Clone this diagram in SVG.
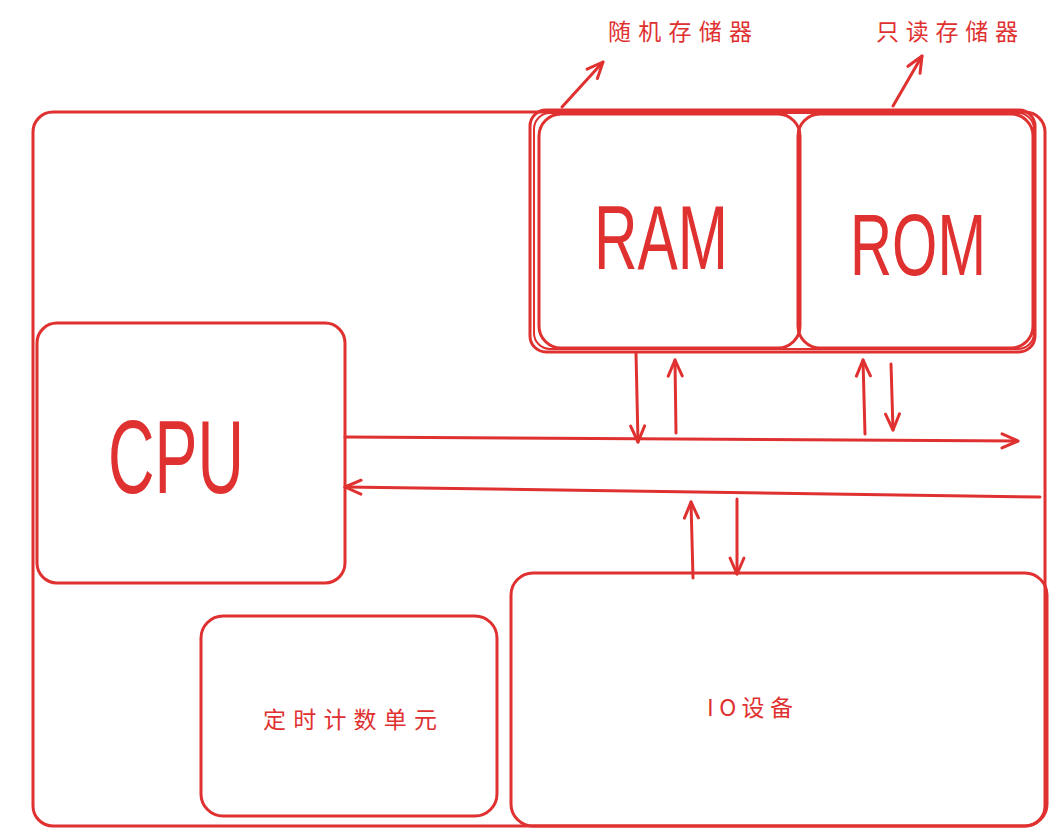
<svg xmlns="http://www.w3.org/2000/svg" width="1060" height="837" viewBox="0 0 1060 837">
<defs>
<style>
.box{fill:none;stroke:#e03131;stroke-width:3;stroke-linecap:round;stroke-linejoin:round}
.thin{fill:none;stroke:#e03131;stroke-width:2;}
.ln{fill:none;stroke:#e03131;stroke-width:3;stroke-linecap:round}
.big{font-family:"Liberation Sans","DejaVu Sans",sans-serif;fill:#e03131;font-weight:normal}
.cn{font-family:"Noto Sans CJK SC",sans-serif;fill:#e03131;font-size:23px}
</style>
<marker id="ah" viewBox="0 0 20 20" refX="18" refY="10" markerWidth="20" markerHeight="20" markerUnits="userSpaceOnUse" orient="auto">
<path d="M2,3 L18,10 L2,17" fill="none" stroke="#e03131" stroke-width="3" stroke-linecap="round" stroke-linejoin="round"/>
</marker>
</defs>
<rect width="1060" height="837" fill="#ffffff"/>
<g id="outer">
<rect class="box" x="33" y="112" width="1012" height="714" rx="20"/>
</g>
<g id="memory">
<rect class="box" x="530" y="110" width="505" height="242" rx="16"/>
<rect class="thin" x="534" y="113" width="500" height="236" rx="16"/>
</g>
<g id="ram">
<rect class="box" x="539" y="114" width="261" height="234" rx="22"/>
<text class="big" x="661" y="269" font-size="90" text-anchor="middle" textLength="134" lengthAdjust="spacingAndGlyphs">RAM</text>
</g>
<g id="rom">
<rect class="box" x="798" y="114" width="235" height="234" rx="22"/>
<text class="big" x="918" y="275" font-size="88" text-anchor="middle" textLength="136" lengthAdjust="spacingAndGlyphs">ROM</text>
</g>
<g id="cpu">
<rect class="box" x="37" y="323" width="308" height="260" rx="20"/>
<text class="big" x="176" y="493" font-size="104" text-anchor="middle" textLength="136" lengthAdjust="spacingAndGlyphs">CPU</text>
</g>
<g id="timer">
<rect class="box" x="201" y="616" width="296" height="200" rx="22"/>
<text class="cn" x="350" y="728" text-anchor="middle" textLength="174" lengthAdjust="spacing">定时计数单元</text>
</g>
<g id="io">
<rect class="box" x="511" y="573" width="536" height="253" rx="22"/>
<text class="cn" x="750" y="716" text-anchor="middle" textLength="86" lengthAdjust="spacing">IO设备</text>
</g>
<g id="labels">
<text class="cn" x="680" y="40" text-anchor="middle" textLength="144" lengthAdjust="spacing">随机存储器</text>
<text class="cn" x="947" y="40" text-anchor="middle" textLength="142" lengthAdjust="spacing">只读存储器</text>
</g>
<g id="connectors">
<line class="ln" x1="562" y1="107" x2="603" y2="62" marker-end="url(#ah)"/>
<line class="ln" x1="893" y1="106" x2="922" y2="56" marker-end="url(#ah)"/>
<line class="ln" x1="345" y1="437" x2="1018" y2="441" marker-end="url(#ah)"/>
<line class="ln" x1="1040" y1="497" x2="345" y2="487" marker-end="url(#ah)"/>
<line class="ln" x1="636" y1="353" x2="638" y2="442" marker-end="url(#ah)"/>
<line class="ln" x1="676" y1="433" x2="675" y2="360" marker-end="url(#ah)"/>
<line class="ln" x1="865" y1="434" x2="863" y2="360" marker-end="url(#ah)"/>
<line class="ln" x1="891" y1="364" x2="893" y2="430" marker-end="url(#ah)"/>
<line class="ln" x1="693" y1="578" x2="691" y2="502" marker-end="url(#ah)"/>
<line class="ln" x1="737" y1="499" x2="737" y2="574" marker-end="url(#ah)"/>
</g>
</svg>
